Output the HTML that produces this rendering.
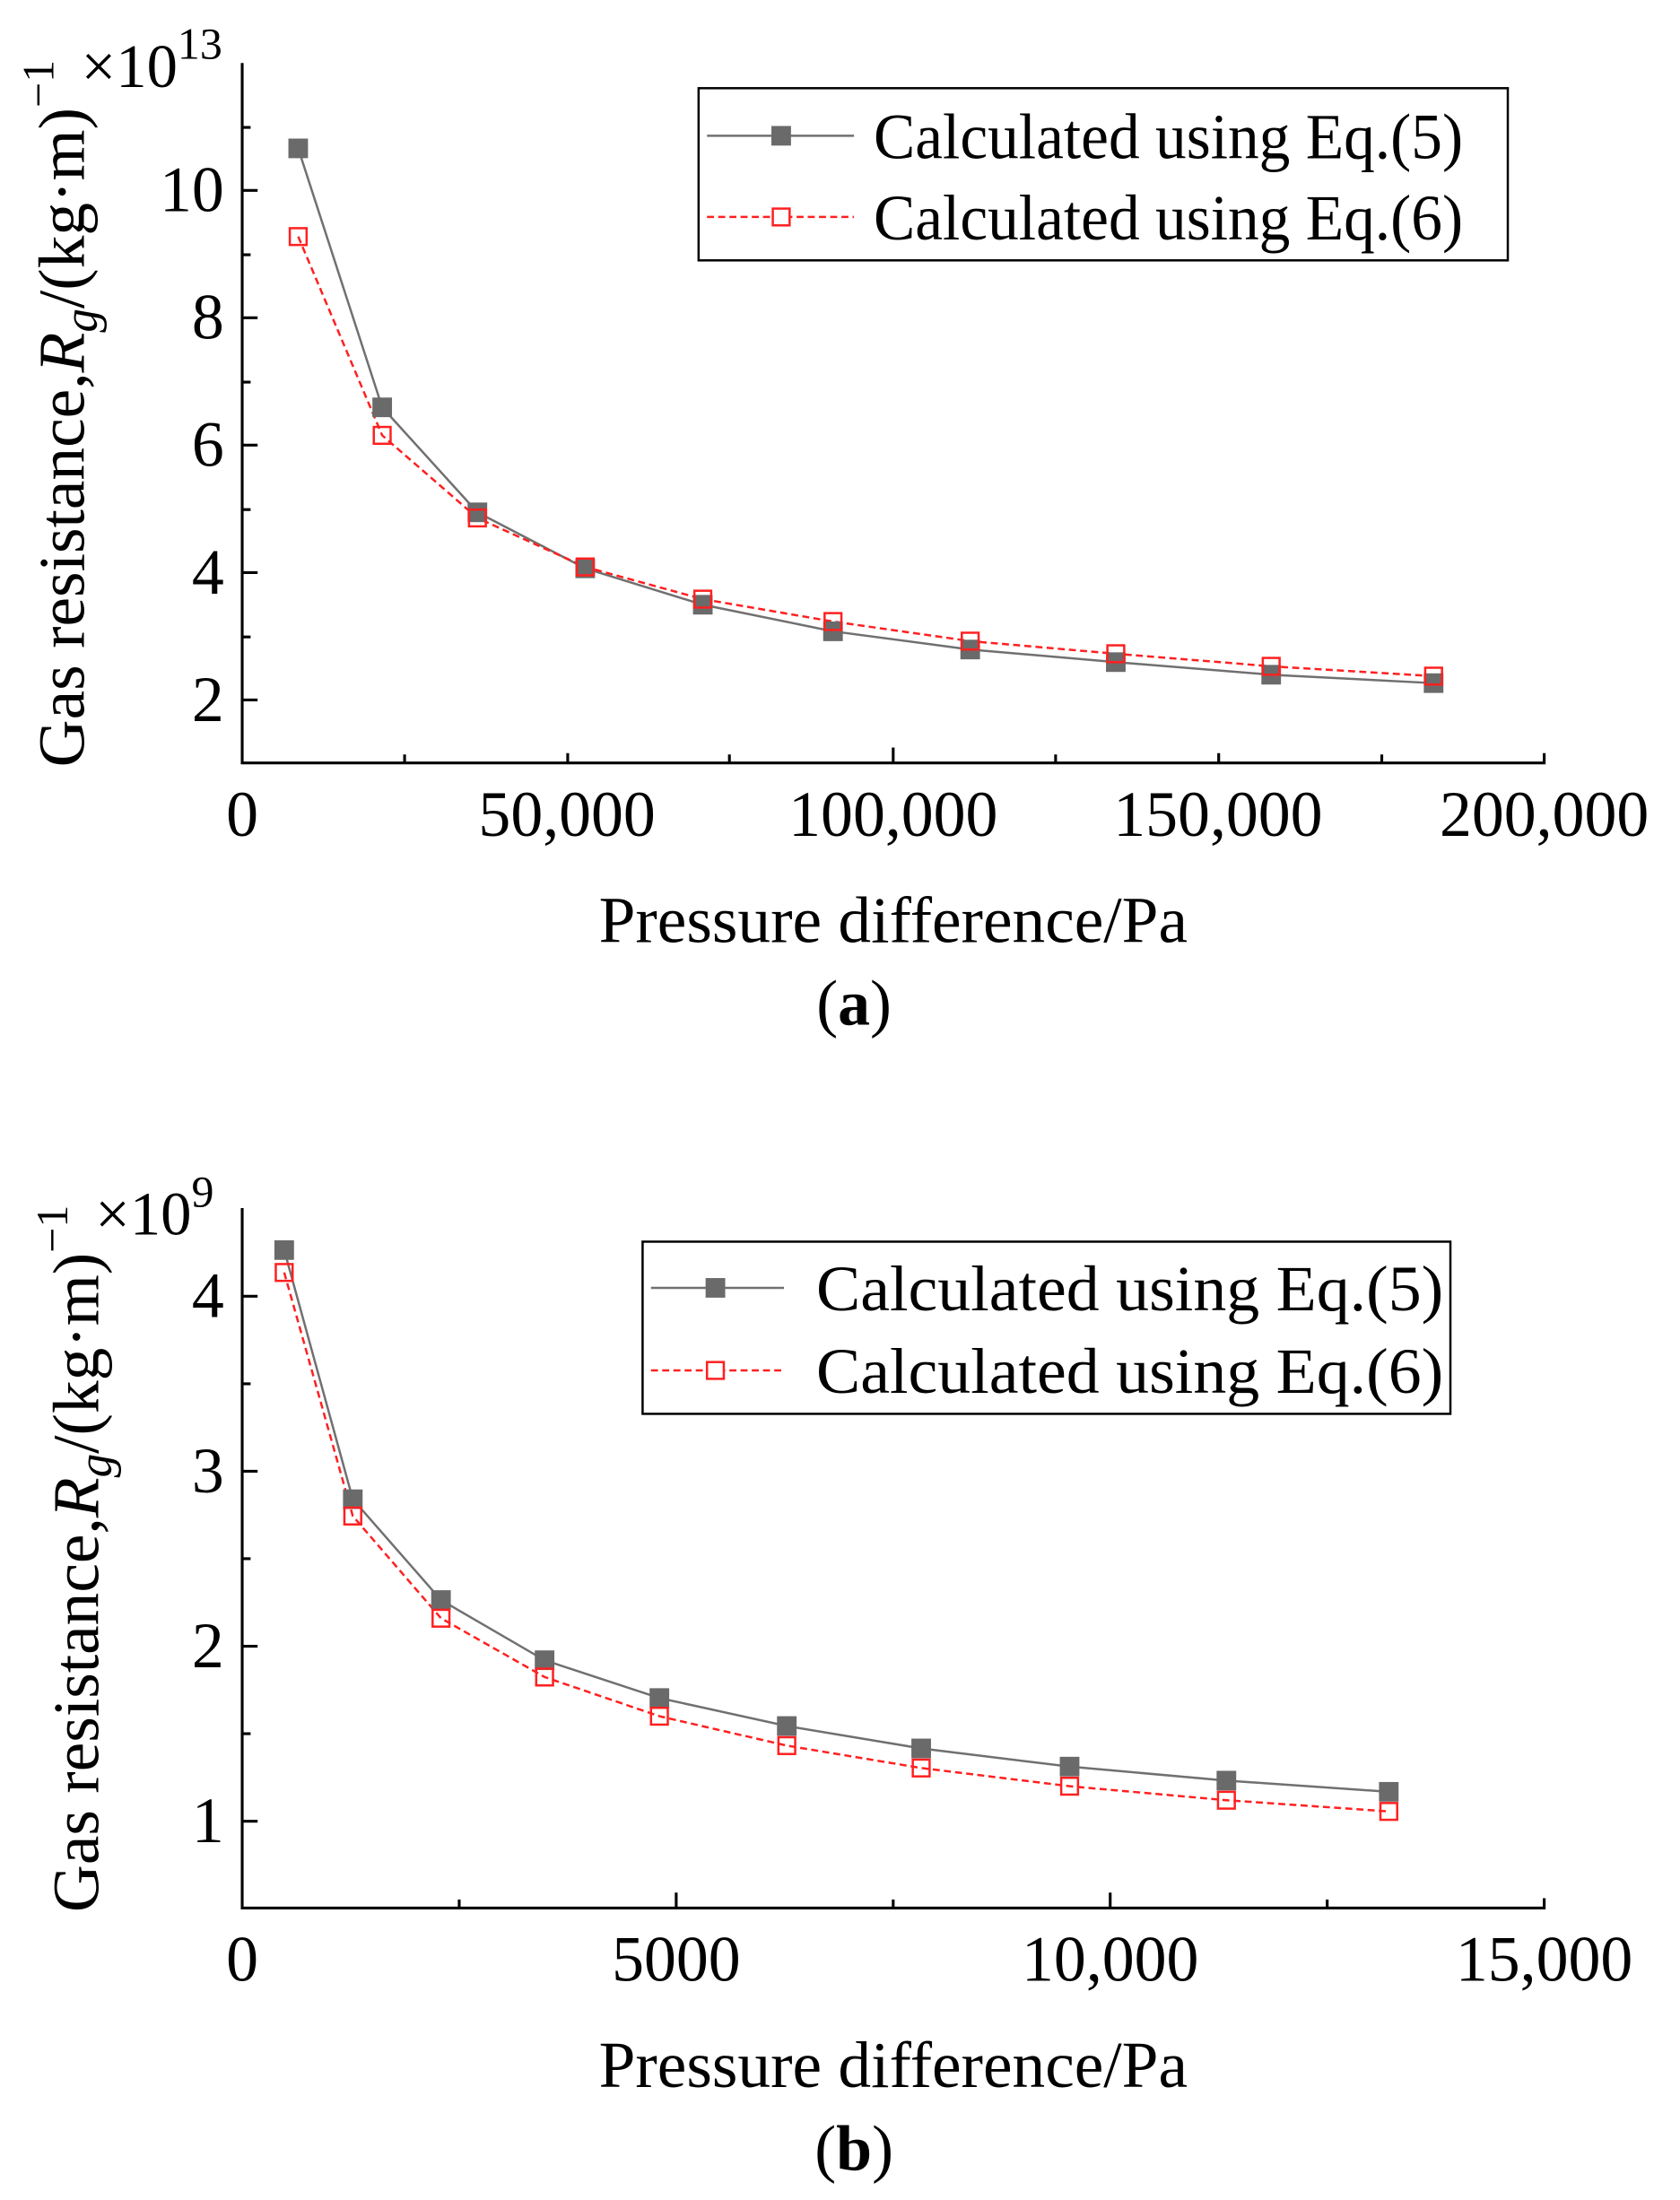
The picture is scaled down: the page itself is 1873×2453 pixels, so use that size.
<!DOCTYPE html>
<html><head><meta charset="utf-8"><style>html,body{margin:0;padding:0;background:#fff}svg{display:block}</style></head>
<body>
<svg xmlns="http://www.w3.org/2000/svg" width="1873" height="2453" viewBox="0 0 1200 1571.6" preserveAspectRatio="none" font-family="Liberation Serif, serif">
<rect width="1200" height="1572" fill="#fff"/>
<!-- Panel A -->
<g stroke="#000" stroke-width="2" fill="none">
<path d="M173,45 V545 H1103 V538"/>
<path d="M173,136h11M173,227h11M173,318h11M173,409h11M173,500h11M173,91h6M173,182h6M173,273h6M173,364h6M173,455h6"/>
<path d="M405.5,545v-7M638,545v-11M870.5,545v-7M289,545v-6M521,545v-6M754,545v-6M987,545v-6"/>
</g>
<g font-size="46" text-anchor="end">
<text x="160" y="151">10</text><text x="160" y="242">8</text><text x="160" y="333">6</text><text x="160" y="424">4</text><text x="160" y="515">2</text>
</g>
<g font-size="46" text-anchor="middle">
<text x="173" y="597">0</text><text x="405" y="597">50,000</text><text x="638" y="597">100,000</text><text x="870" y="597">150,000</text><text x="1103" y="597">200,000</text>
</g>
<text x="58" y="62" font-size="44">×10<tspan font-size="32" dy="-20">13</tspan></text>
<text transform="translate(60,548) rotate(-90)" font-size="47">Gas resistance,<tspan font-style="italic">R</tspan><tspan font-style="italic" font-size="34" dy="9">g</tspan><tspan dy="-9">/(kg·m)</tspan><tspan font-size="32" dy="-22">−1</tspan></text>
<text x="638" y="673" font-size="47" text-anchor="middle">Pressure difference/Pa</text>
<text x="610" y="732" font-size="46" text-anchor="middle">(<tspan font-weight="bold">a</tspan>)</text>
<polyline fill="none" stroke="#707070" stroke-width="1.6" points="213,106 273,291 341,366 418,406 502,432 595,451 693,464 797,473 908,482 1024,488"/>
<polyline fill="none" stroke="#ff2020" stroke-width="1.6" stroke-dasharray="5,3" points="213,169 273,311 341,370 418,405 502,428 595,444 693,458 797,467 908,476 1024,483"/>
<g fill="#6a6a6a">
<rect x="206" y="99" width="14" height="14"/><rect x="266" y="284" width="14" height="14"/><rect x="334" y="359" width="14" height="14"/><rect x="411" y="399" width="14" height="14"/><rect x="495" y="425" width="14" height="14"/><rect x="588" y="444" width="14" height="14"/><rect x="686" y="457" width="14" height="14"/><rect x="790" y="466" width="14" height="14"/><rect x="901" y="475" width="14" height="14"/><rect x="1017" y="481" width="14" height="14"/>
</g>
<g fill="none" stroke="#ff2020" stroke-width="1.6">
<rect x="207" y="163" width="12" height="12"/><rect x="267" y="305" width="12" height="12"/><rect x="335" y="364" width="12" height="12"/><rect x="412" y="399" width="12" height="12"/><rect x="496" y="422" width="12" height="12"/><rect x="589" y="438" width="12" height="12"/><rect x="687" y="452" width="12" height="12"/><rect x="791" y="461" width="12" height="12"/><rect x="902" y="470" width="12" height="12"/><rect x="1018" y="477" width="12" height="12"/>
</g>
<rect x="499" y="63" width="578" height="123" fill="none" stroke="#000" stroke-width="1.6"/>
<line x1="505" y1="97" x2="610" y2="97" stroke="#707070" stroke-width="1.6"/>
<rect x="551" y="90" width="14" height="14" fill="#6a6a6a"/>
<line x1="505" y1="155" x2="610" y2="155" stroke="#ff2020" stroke-width="1.6" stroke-dasharray="5,3"/>
<rect x="552" y="149" width="12" height="12" fill="#fff" stroke="#ff2020" stroke-width="1.6"/>
<text x="624" y="113" font-size="46" textLength="421" lengthAdjust="spacingAndGlyphs">Calculated using Eq.(5)</text>
<text x="624" y="171" font-size="46" textLength="421" lengthAdjust="spacingAndGlyphs">Calculated using Eq.(6)</text>

<!-- Panel B -->
<g stroke="#000" stroke-width="2" fill="none">
<path d="M173,863 V1363 H1103 V1356"/>
<path d="M173,926h11M173,1051h11M173,1176h11M173,1301h11M173,988.5h6M173,1113.5h6M173,1238.5h6"/>
<path d="M483,1363v-11M793,1363v-11M328,1363v-6M638,1363v-6M948,1363v-6"/>
</g>
<g font-size="46" text-anchor="end">
<text x="160" y="941">4</text><text x="160" y="1066">3</text><text x="160" y="1191">2</text><text x="160" y="1316">1</text>
</g>
<g font-size="46" text-anchor="middle">
<text x="173" y="1415">0</text><text x="483" y="1415">5000</text><text x="793" y="1415">10,000</text><text x="1103" y="1415">15,000</text>
</g>
<text x="68" y="882" font-size="44">×10<tspan font-size="32" dy="-20">9</tspan></text>
<text transform="translate(70,1366) rotate(-90)" font-size="47">Gas resistance,<tspan font-style="italic">R</tspan><tspan font-style="italic" font-size="34" dy="9">g</tspan><tspan dy="-9">/(kg·m)</tspan><tspan font-size="32" dy="-22">−1</tspan></text>
<text x="638" y="1491" font-size="47" text-anchor="middle">Pressure difference/Pa</text>
<text x="610" y="1550" font-size="46" text-anchor="middle">(<tspan font-weight="bold">b</tspan>)</text>
<polyline fill="none" stroke="#707070" stroke-width="1.6" points="203,893 252,1071 315,1143 389,1186 471,1213 562,1233 658,1249 764,1262 876,1272 992,1280"/>
<polyline fill="none" stroke="#ff2020" stroke-width="1.6" stroke-dasharray="5,3" points="203,909 252,1083 315,1156 389,1198 471,1226 562,1247 658,1263 764,1276 876,1286 992,1294"/>
<g fill="#6a6a6a">
<rect x="196" y="886" width="14" height="14"/><rect x="245" y="1064" width="14" height="14"/><rect x="308" y="1136" width="14" height="14"/><rect x="382" y="1179" width="14" height="14"/><rect x="464" y="1206" width="14" height="14"/><rect x="555" y="1226" width="14" height="14"/><rect x="651" y="1242" width="14" height="14"/><rect x="757" y="1255" width="14" height="14"/><rect x="869" y="1265" width="14" height="14"/><rect x="985" y="1273" width="14" height="14"/>
</g>
<g fill="none" stroke="#ff2020" stroke-width="1.6">
<rect x="197" y="903" width="12" height="12"/><rect x="246" y="1077" width="12" height="12"/><rect x="309" y="1150" width="12" height="12"/><rect x="383" y="1192" width="12" height="12"/><rect x="465" y="1220" width="12" height="12"/><rect x="556" y="1241" width="12" height="12"/><rect x="652" y="1257" width="12" height="12"/><rect x="758" y="1270" width="12" height="12"/><rect x="870" y="1280" width="12" height="12"/><rect x="986" y="1288" width="12" height="12"/>
</g>
<rect x="459" y="887" width="577" height="123" fill="none" stroke="#000" stroke-width="1.6"/>
<line x1="465" y1="920" x2="560" y2="920" stroke="#707070" stroke-width="1.6"/>
<rect x="504" y="913" width="14" height="14" fill="#6a6a6a"/>
<line x1="465" y1="979" x2="560" y2="979" stroke="#ff2020" stroke-width="1.6" stroke-dasharray="5,3"/>
<rect x="505" y="973" width="12" height="12" fill="#fff" stroke="#ff2020" stroke-width="1.6"/>
<text x="583" y="936" font-size="46" textLength="448" lengthAdjust="spacingAndGlyphs">Calculated using Eq.(5)</text>
<text x="583" y="995" font-size="46" textLength="448" lengthAdjust="spacingAndGlyphs">Calculated using Eq.(6)</text>
</svg>
</body></html>
